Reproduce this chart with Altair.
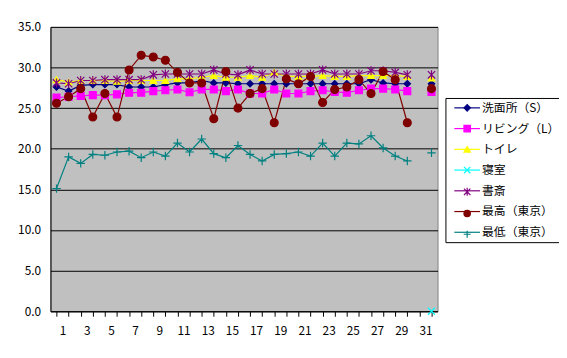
import altair as alt
import pandas as pd

days = list(range(1, 33))
series_names = ["洗面所（S）", "リビング（L）", "トイレ", "寝室", "書斎", "最高（東京）", "最低（東京）"]
point_keys = ["p1", "p2", "p3", "p4", "p5", "p6", "p7"]

washroom = [27.6, 27.1, 27.8, 27.9, 27.9, 27.9, 27.6, 27.6, 27.6, 27.9, 28.1, 28.1, 28.4, 28.1, 28.1, 28.0,
            28.0, 28.0, 28.0, 28.0, 28.0, 28.0, 28.0, 28.0, 28.0, 28.0, 28.5, 28.1, 28.0, 28.0, None, 28.0]
living = [26.3, 26.4, 26.5, 26.6, 26.6, 26.7, 26.9, 26.9, 27.1, 27.2, 27.3, 26.95, 27.3, 27.3, 27.1, 27.3,
          26.8, 26.8, 27.3, 26.8, 26.8, 27.1, 27.2, 27.0, 26.9, 27.2, 27.4, 27.4, 27.3, 27.1, None, 27.0]
toilet = [28.5, 28.2, 28.4, 28.4, 28.4, 28.3, 28.4, 28.4, 28.4, 28.4, 28.6, 28.6, 28.8, 29.0, 28.8, 28.8,
          29.0, 28.8, 29.4, 28.9, 28.9, 28.9, 29.0, 28.9, 28.9, 29.0, 29.0, 29.0, 29.0, 28.9, None, 28.7]
bedroom = [None] * 31 + [0.0]
study = [28.1, 28.0, 28.4, 28.4, 28.5, 28.5, 28.5, 28.5, 29.1, 29.2, 29.2, 29.2, 29.2, 29.7, 29.2, 29.1,
         29.7, 29.2, 29.2, 29.2, 29.2, 29.2, 29.7, 29.2, 29.2, 29.2, 29.6, 29.6, 29.4, 29.1, None, 29.1]
high = [25.6, 26.4, 27.4, 23.9, 26.8, 23.9, 29.7, 31.5, 31.3, 30.9, 29.4, 28.1, 28.1, 23.7, 29.5, 25.0,
        26.8, 27.4, 23.2, 28.6, 28.0, 28.9, 25.7, 27.3, 27.6, 28.5, 26.8, 29.5, 28.5, 23.2, None, 27.4]
low = [15.1, 19.0, 18.2, 19.3, 19.2, 19.6, 19.7, 18.9, 19.6, 19.1, 20.7, 19.6, 21.2, 19.4, 18.9, 20.4,
       19.3, 18.5, 19.3, 19.4, 19.6, 19.1, 20.7, 19.1, 20.7, 20.6, 21.6, 20.1, 19.1, 18.5, None, 19.5]

y_ticks = [0, 5, 10, 15, 20, 25, 30, 35]

# styles
colors = ["#000080", "#FF00FF", "#FFFF00", "#00FFFF", "#800080", "#800000", "#008080"]
shapes = ["diamond", "square", "triangle-up",
          "M-1,-1L1,1M-1,1L1,-1",
          "M-1,-1L1,1M-1,1L1,-1M0,-1.25L0,1.25",
          "circle",
          "M-1.1,0L1.1,0M0,-1.1L0,1.1"]
marker_sizes = [42, 49, 45, 50, 55, 64, 60]

all_series = [washroom, living, toilet, bedroom, study, high, low]
rows = []
for name, key, vals, sz in zip(series_names, point_keys, all_series, marker_sizes):
    for d, v in zip(days, vals):
        if v is None:
            continue
        seg = 0 if d <= 30 else 1
        rows.append({"day": d, "value": v, "series": name, "key": key,
                     "grp": f"{key}-{seg}", "sz": sz})
df = pd.DataFrame(rows)

FONT = "Noto Sans CJK JP"

x_enc = alt.X("day:O",
              scale=alt.Scale(domain=days, paddingInner=0, paddingOuter=0),
              axis=alt.Axis(title=None, labelAngle=0, bandPosition=0, labelOffset=6.125,
                            labelExpr="datum.value % 2 == 1 ? datum.label : ''",
                            labelOverlap=False, labelBound=False, tickSize=5, tickColor="black",
                            domainColor="black", labelPadding=10, grid=False))
y_enc = alt.Y("value:Q",
              scale=alt.Scale(domain=[0, 35], nice=False, zero=True),
              axis=alt.Axis(title=None, values=y_ticks, format=".1f", grid=True, gridColor="black",
                            gridOpacity=1, gridWidth=1, ticks=False, labelPadding=10,
                            domainColor="black"))

line_legend = alt.Legend(orient="none", legendX=400, legendY=72, title=None, padding=4,
                         rowPadding=9, symbolType="M-6.5,0L6.5,0", symbolSize=16,
                         symbolStrokeWidth=1.2, symbolOffset=12, labelOffset=9,
                         strokeColor="black", fillColor="white", labelLimit=200, zindex=1)
point_legend = alt.Legend(orient="none", legendX=400, legendY=72, title=None, padding=4,
                          rowPadding=9, symbolSize=42, symbolStrokeWidth=1.2, symbolOffset=12,
                          labelOffset=9, labelExpr="''", zindex=2)

lines = alt.Chart(df).mark_line(strokeWidth=1.2).encode(
    x=x_enc, y=y_enc,
    color=alt.Color("series:N", scale=alt.Scale(domain=series_names, range=colors), legend=line_legend),
    detail="grp:N",
)

points = alt.Chart(df).mark_point(strokeWidth=1.2, opacity=1).encode(
    x="day:O", y="value:Q",
    fill=alt.Fill("key:N", scale=alt.Scale(domain=point_keys, range=colors), legend=point_legend),
    stroke=alt.Stroke("key:N", scale=alt.Scale(domain=point_keys, range=colors), legend=point_legend),
    shape=alt.Shape("key:N", scale=alt.Scale(domain=point_keys, range=shapes), legend=point_legend),
    size=alt.Size("sz:Q", scale=None),
)

chart = alt.layer(lines, points).properties(
    width=392, height=288,
    padding={"left": 43, "top": 17, "right": 123, "bottom": 30},
    autosize=alt.AutoSizeParams(type="none"),
    background="white",
).configure_view(
    fill="#C0C0C0", stroke="#808080", strokeWidth=1
).configure_axis(
    labelFont=FONT, labelFontSize=12, labelColor="black"
).configure_legend(
    labelFont=FONT, labelFontSize=12, labelColor="black"
)

chart.save("out.html", embed_options={"renderer": "svg", "actions": False})
